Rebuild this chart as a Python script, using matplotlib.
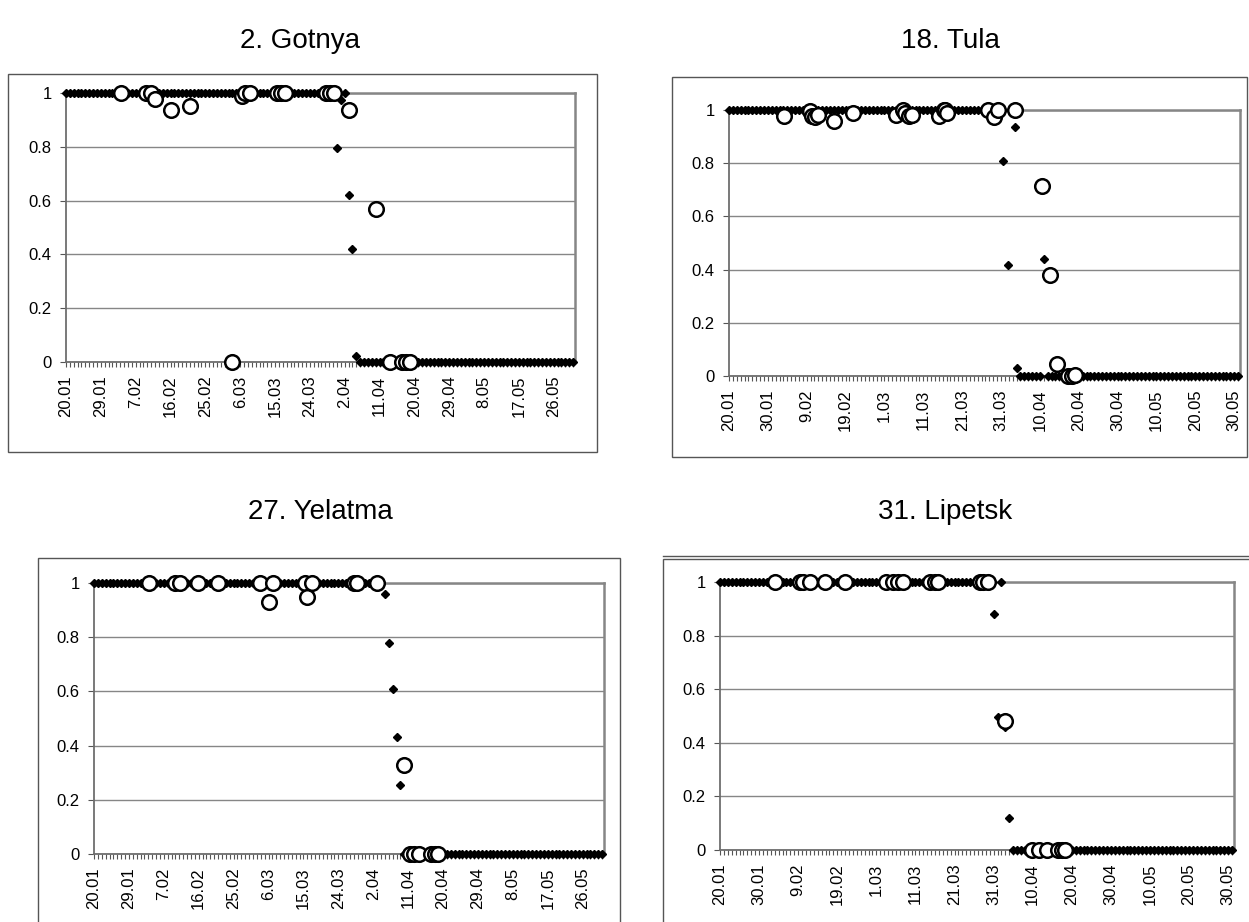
import matplotlib
matplotlib.use('Agg')
import matplotlib.pyplot as plt
from matplotlib.patches import Rectangle
from matplotlib.lines import Line2D
import numpy as np

plt.rcParams['font.family'] = ['Liberation Sans', 'DejaVu Sans']

W, H = 1249, 922

# ---------------- data (x = day index, 0 = 20.01, 131 = 31.05) ----------------
last_day = 131

ticks9_labels = ['20.01', '29.01', '7.02', '16.02', '25.02', '6.03', '15.03', '24.03',
                 '2.04', '11.04', '20.04', '29.04', '8.05', '17.05', '26.05']
ticks10_labels = ['20.01', '30.01', '9.02', '19.02', '1.03', '11.03', '21.03', '31.03',
                  '10.04', '20.04', '30.04', '10.05', '20.05', '30.05']

# 2. Gotnya
gotnya_ones_last = 69
gotnya_trans_days = [70, 71, 72, 73, 74, 75]
gotnya_trans_vals = [0.795, 0.975, 1.0, 0.62, 0.42, 0.024]
gotnya_zero_first = 76
gotnya_obs_days = [14.2, 20.6, 21.9, 23.1, 27.0, 32.1, 43.0, 45.5, 46.3, 47.5, 54.5, 55.6, 56.6,
                   67.1, 68.1, 69.2, 73.0, 80.2, 83.6, 86.9, 87.8, 88.9]
gotnya_obs_vals = [1.0, 1.0, 1.0, 0.978, 0.938, 0.953, 0.0, 0.99, 1.0, 1.0, 1.0, 1.0, 1.0,
                   1.0, 1.0, 1.0, 0.935, 0.57, 0.0, 0.0, 0.0, 0.0]

# 18. Tula
tula_ones_last = 69
tula_trans_days = [70.4, 71.7, 73.5, 74.0, 81.0]
tula_trans_vals = [0.81, 0.417, 0.937, 0.03, 0.44]
tula_zero_first = 75
tula_zero_skip = [81]
tula_obs_days = [14.1, 20.9, 21.4, 22.2, 23.0, 26.9, 32.0, 43.0, 44.9, 45.4, 46.4, 47.2, 54.0,
                 55.2, 55.7, 56.2, 66.6, 68.1, 69.1, 73.5, 80.5, 82.6, 84.3, 87.2, 88.2, 89.1]
tula_obs_vals = [0.978, 0.996, 0.978, 0.975, 0.98, 0.96, 0.99, 0.98, 1.0, 0.99, 0.978, 0.98, 0.978,
                 1.0, 1.0, 0.99, 1.0, 0.975, 1.0, 1.0, 0.715, 0.38, 0.045, 0.0, 0.0, 0.005]

# 27. Yelatma
yelatma_ones_last = 74
yelatma_trans_days = [75, 76, 77, 78, 79]
yelatma_trans_vals = [0.96, 0.78, 0.61, 0.43, 0.255]
yelatma_zero_first = 80
yelatma_obs_days = [14.1, 21.0, 22.3, 26.9, 32.0, 42.7, 45.1, 46.1, 54.3, 54.9, 56.1, 67.1, 67.8,
                    72.9, 79.9, 81.5, 82.5, 83.8, 86.9, 87.9, 88.6]
yelatma_obs_vals = [1.0, 1.0, 1.0, 1.0, 1.0, 1.0, 0.93, 1.0, 1.0, 0.947, 1.0, 1.0, 1.0,
                    1.0, 0.33, 0.0, 0.0, 0.0, 0.0, 0.0, 0.0]

# 31. Lipetsk
lipetsk_ones_last = 69
lipetsk_trans_days = [70, 71, 72, 73, 74]
lipetsk_trans_vals = [0.88, 0.495, 1.0, 0.46, 0.12]
lipetsk_zero_first = 75
lipetsk_obs_days = [14.1, 20.5, 21.3, 22.9, 26.8, 32.0, 42.5, 44.3, 45.5, 46.9, 53.7, 55.0, 55.7,
                    66.4, 67.3, 68.6, 73.0, 79.9, 81.7, 83.7, 86.5, 87.5, 88.3]
lipetsk_obs_vals = [1.0, 1.0, 1.0, 1.0, 1.0, 1.0, 1.0, 1.0, 1.0, 1.0, 1.0, 1.0, 1.0,
                    1.0, 1.0, 1.0, 0.483, 0.0, 0.0, 0.0, 0.0, 0.0, 0.0]

# ---------------- figure ----------------
fig = plt.figure(figsize=(W / 100, H / 100), dpi=100)
fig.patch.set_facecolor('white')

GRAY = '#868686'


def fx(px):
    return px / W


def fy(py):
    return 1 - py / H


def model_series(ones_last, tdays, tvals, zero_first, skip=()):
    xs = list(range(0, ones_last + 1))
    ys = [1.0] * len(xs)
    xs += list(tdays)
    ys += list(tvals)
    zx = [d for d in range(zero_first, last_day + 1) if d not in skip]
    xs += zx
    ys += [0.0] * len(zx)
    return xs, ys


def panel(box, labels, step, model, obs_x, obs_y, title, title_xy, outer, double_top=False):
    l, r, t, b = box
    ax = fig.add_axes([fx(l), fy(b), fx(r - l), (b - t) / H])
    ax.set_xlim(0, last_day + 0.5)
    ax.set_ylim(0, 1)
    mx, my = model
    ax.plot(mx, my, linestyle='none', marker='D', ms=4.2, color='black', mec='black',
            clip_on=False, zorder=3)
    ax.plot(obs_x, obs_y, linestyle='none', marker='o', ms=10.5, mfc='white', mec='black',
            mew=1.8, clip_on=False, zorder=4)
    ax.set_yticks([0, 0.2, 0.4, 0.6, 0.8, 1.0])
    ax.set_yticklabels(['0', '0.2', '0.4', '0.6', '0.8', '1'])
    ax.set_xticks([i * step for i in range(len(labels))])
    ax.set_xticklabels(labels, rotation=90)
    ax.set_xticks(range(0, last_day + 1), minor=True)
    ax.tick_params(axis='x', which='both', direction='out', length=3.6, width=0.8,
                   color='#555555', labelsize=12, pad=6)
    ax.tick_params(axis='y', which='major', direction='out', length=4.3, width=0.8,
                   color='#555555', labelsize=12, pad=6)
    ax.yaxis.grid(True, color=GRAY, lw=1.0)
    ax.set_axisbelow(True)
    for s in ['top', 'right']:
        ax.spines[s].set_color(GRAY)
        ax.spines[s].set_linewidth(1.8)
    for s in ['left', 'bottom']:
        ax.spines[s].set_color('#6e6e6e')
        ax.spines[s].set_linewidth(1.3)
    fig.text(fx(title_xy[0]), fy(title_xy[1]), title, ha='center', va='center', fontsize=20)
    ox0, ox1, oy0, oy1 = outer
    fig.add_artist(Rectangle((fx(ox0), fy(oy1)), fx(ox1 - ox0), (oy1 - oy0) / H,
                             transform=fig.transFigure, fill=False, ec='#555555', lw=1.0))
    if double_top:
        fig.add_artist(Line2D([fx(ox0), fx(ox1)], [fy(oy0 - 3), fy(oy0 - 3)],
                              transform=fig.transFigure, color='#555555', lw=1.0))
    return ax


panel((66, 575, 93, 362), ticks9_labels, 9,
      model_series(gotnya_ones_last, gotnya_trans_days, gotnya_trans_vals, gotnya_zero_first),
      gotnya_obs_days, gotnya_obs_vals, '2. Gotnya', (300, 41), (8, 597, 74, 452))

panel((729, 1240, 110, 376), ticks10_labels, 10,
      model_series(tula_ones_last, tula_trans_days, tula_trans_vals, tula_zero_first, tula_zero_skip),
      tula_obs_days, tula_obs_vals, '18. Tula', (950, 41), (672, 1247, 77, 457))

panel((94, 604, 583, 854), ticks9_labels, 9,
      model_series(yelatma_ones_last, yelatma_trans_days, yelatma_trans_vals, yelatma_zero_first),
      yelatma_obs_days, yelatma_obs_vals, '27. Yelatma', (320, 512), (38, 620, 558, 935))

panel((720, 1234, 582, 850), ticks10_labels, 10,
      model_series(lipetsk_ones_last, lipetsk_trans_days, lipetsk_trans_vals, lipetsk_zero_first),
      lipetsk_obs_days, lipetsk_obs_vals, '31. Lipetsk', (945, 512), (663, 1252, 559, 935),
      double_top=True)

fig.savefig('out.png', dpi=100, facecolor='white')
